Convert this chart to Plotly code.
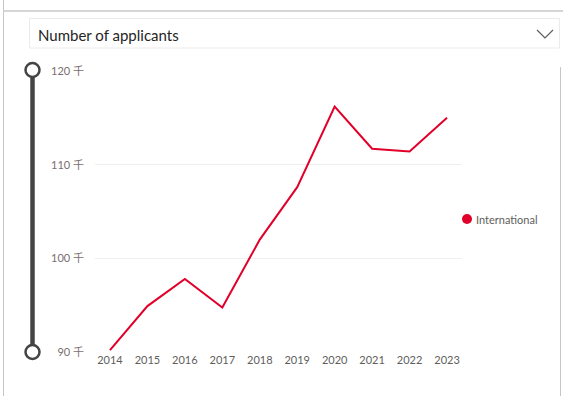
import plotly.graph_objects as go

years = ["2014", "2015", "2016", "2017", "2018", "2019", "2020", "2021", "2022", "2023"]
international = [90200, 94900, 97800, 94750, 102000, 107600, 116200, 111700, 111400, 115000]
y_tickvals = [90000, 100000, 110000, 120000]
y_ticktext = ["90 千", "100 千", "110 千", "120 千"]
series_name = "International"
selector_label = "Number of applicants"

W, H = 563, 396
L, R, T, B = 95, 462, 71, 352  # plot area in pixels

def px(x):
    return (x - L) / (R - L)

def py(y):
    return (B - y) / (B - T)

FONT = "Segoe UI, Lato, Noto Sans CJK SC, sans-serif"
RED = "#E1002A"

fig = go.Figure()
fig.add_trace(go.Scatter(
    x=years, y=international, mode="lines", name=series_name,
    line=dict(color=RED, width=2), showlegend=False,
    hovertemplate="%{x}: %{y}<extra></extra>",
))

shapes = []
# outer frame lines
shapes.append(dict(type="line", xref="paper", yref="paper", x0=px(3.5), x1=px(3.5), y0=py(0), y1=py(396),
                   line=dict(color="#C8C6C4", width=1)))
shapes.append(dict(type="line", xref="paper", yref="paper", x0=px(3.5), x1=px(563), y0=py(11), y1=py(11),
                   line=dict(color="#D6D6D6", width=2)))
shapes.append(dict(type="line", xref="paper", yref="paper", x0=px(560.5), x1=px(560.5), y0=py(67), y1=py(396),
                   line=dict(color="#C8C6C4", width=1)))
# dropdown box
shapes.append(dict(type="rect", xref="paper", yref="paper", x0=px(29.5), x1=px(559.5), y0=py(18.5), y1=py(48),
                   line=dict(color="#EDEBE9", width=1), fillcolor="white"))
# chevron
shapes.append(dict(type="path", xref="paper", yref="paper",
                   path=f"M {px(537)} {py(30)} L {px(545)} {py(38)} L {px(553)} {py(30)}",
                   line=dict(color="#605E5C", width=1.2)))
# slider bar
shapes.append(dict(type="line", xref="paper", yref="paper", x0=px(32.5), x1=px(32.5), y0=py(72), y1=py(350),
                   line=dict(color="#444444", width=4.5)))
for cy in (70, 352):
    shapes.append(dict(type="circle", xref="paper", yref="paper",
                       x0=px(32.5 - 7), x1=px(32.5 + 7), y0=py(cy - 7), y1=py(cy + 7),
                       line=dict(color="#444444", width=2.5), fillcolor="white"))
# legend dot
shapes.append(dict(type="circle", xref="paper", yref="paper",
                   x0=px(462), x1=px(472), y0=py(214), y1=py(224),
                   line=dict(color=RED, width=0), fillcolor=RED))

annotations = [
    dict(xref="paper", yref="paper", x=px(36), y=py(35), text=selector_label, showarrow=False,
         xanchor="left", yanchor="middle", font=dict(family=FONT, size=15, color="#252423")),
    dict(xref="paper", yref="paper", x=px(474), y=py(219), text=series_name, showarrow=False,
         xanchor="left", yanchor="middle", font=dict(family=FONT, size=11, color="#605E5C")),
]

fig.update_layout(
    width=W, height=H,
    margin=dict(l=L, r=W - R, t=T, b=H - B),
    paper_bgcolor="white", plot_bgcolor="white",
    font=dict(family=FONT, size=11, color="#605E5C"),
    showlegend=False,
    shapes=shapes, annotations=annotations,
    xaxis=dict(type="category", range=[-0.4, 9.4], showgrid=False, showline=False, zeroline=False,
               ticks="", tickfont=dict(family=FONT, size=11, color="#605E5C"), fixedrange=True),
    yaxis=dict(range=[90000, 120000], tickvals=y_tickvals, ticktext=y_ticktext,
               showgrid=True, gridcolor="#EFEFEF", gridwidth=1, zeroline=False, showline=False,
               ticks="", ticklabelstandoff=10, tickfont=dict(family=FONT, size=11, color="#7A6E6E"),
               fixedrange=True),
)

fig.write_html("out.html", config={"displayModeBar": False},
               post_script="document.body.style.margin='0px';document.body.style.overflow='hidden';")
